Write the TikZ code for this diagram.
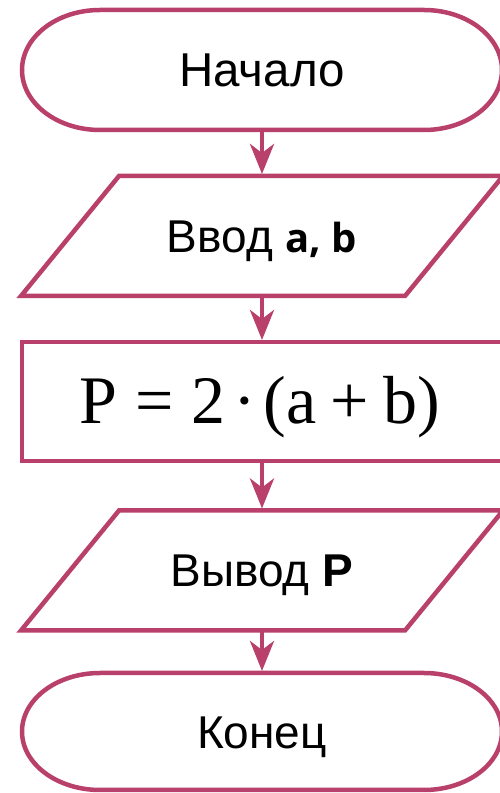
\documentclass[tikz,border=0pt]{standalone}
\usepackage{fontspec}
\setmainfont{Liberation Sans}
\newfontfamily\serifform{Liberation Serif}
\newfontfamily\boldsans{Open Sans}
\usetikzlibrary{arrows.meta}
\definecolor{fc}{RGB}{185,64,106}
\begin{document}
\begin{tikzpicture}[x=1pt,y=1pt,
  line width=4.5pt,
  every node/.style={inner sep=0pt, outer sep=0pt},
  shapebox/.style={minimum width=480pt, minimum height=120pt},
  parbox/.style={minimum width=482pt, minimum height=120pt},
  lbl/.style={font=\fontsize{46}{50}\selectfont, text height=33pt, text depth=0pt},
  outline/.style={draw=fc, line width=4.5pt, line join=miter},
  flow/.style={draw=fc, line width=4.5pt, shorten <=2pt, shorten >=2pt,
    -{Stealth[length=30pt,width=24pt,inset=9pt]}}]
\useasboundingbox (0,0) rectangle (500,793);

% Start terminal
\node[shapebox, lbl, font=\fontsize{47.5}{52}\selectfont] (start) at (262,723) {Начало};
\draw[outline] ([xshift=78pt]start.north west) -- ([xshift=-78pt]start.north east)
  arc[start angle=90, end angle=-90, x radius=78pt, y radius=60pt]
  -- ([xshift=78pt]start.south west)
  arc[start angle=270, end angle=90, x radius=78pt, y radius=60pt] -- cycle;

% Input parallelogram
\node[parbox, lbl] (in) at (262,557) {Ввод {\boldsans\bfseries\fontsize{40}{44}\selectfont a, b}};
\draw[outline] (in.south west) -- ([xshift=-98pt]in.south east) -- (in.north east)
  -- ([xshift=98pt]in.north west) -- cycle;

% Process
\node[shapebox, minimum height=119pt, draw=fc, font=\serifform\fontsize{68}{72}\selectfont,
  text height=45pt, text depth=0pt] (proc) at (262,391.5)
  {\hspace*{-5pt}P\hspace{0.27em}=\hspace{0.27em}2\hspace{0.11em}·\hspace{0.11em}(a\hspace{0.21em}+\hspace{0.21em}b)};

% Output parallelogram
\node[parbox, lbl] (out) at (262,222.5) {Вывод \textbf{P}};
\draw[outline] (out.south west) -- ([xshift=-98pt]out.south east) -- (out.north east)
  -- ([xshift=98pt]out.north west) -- cycle;

% End terminal
\node[shapebox, minimum height=117pt, lbl] (stop) at (262,61.5) {Конец};
\draw[outline] ([xshift=78pt]stop.north west) -- ([xshift=-78pt]stop.north east)
  arc[start angle=90, end angle=-90, x radius=78pt, y radius=58.5pt]
  -- ([xshift=78pt]stop.south west)
  arc[start angle=270, end angle=90, x radius=78pt, y radius=58.5pt] -- cycle;

% Connectors
\draw[flow] (start) -- (in);
\draw[flow] (in) -- (proc);
\draw[flow] (proc) -- (out);
\draw[flow] (out) -- (stop);
\end{tikzpicture}
\end{document}
